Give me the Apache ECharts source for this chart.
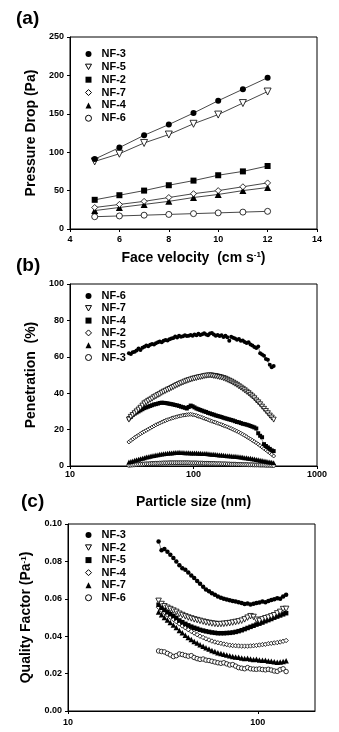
<!DOCTYPE html>
<html>
<head>
<meta charset="utf-8">
<script src="https://cdn.jsdelivr.net/npm/echarts@6/dist/echarts.min.js"></script>
<style>
html,body{margin:0;padding:0;background:#fff;}
#chart{width:339px;height:732px;}
</style>
</head>
<body>
<div id="chart"></div>
<script>
// ---------- Panel (a): pressure drop vs face velocity ----------
const velocity = [5, 6, 7, 8, 9, 10, 11, 12];
const dropNF3 = [91, 106, 122, 136, 151, 167, 182, 197];
const dropNF5 = [88, 98, 112, 123, 137, 149, 164, 179];
const dropNF2 = [38, 44, 50, 57, 63, 70, 75, 82];
const dropNF7 = [28, 32, 36, 41, 46, 50, 55, 60];
const dropNF4 = [24, 28, 32, 36, 41, 45, 50, 54];
const dropNF6 = [16, 17, 18, 19, 20, 21, 22, 23];
const velocityTicks = [4, 6, 8, 10, 12, 14];
const dropTicks = [0, 50, 100, 150, 200, 250];

// ---------- Panel (b): penetration vs particle size ----------
const sizeB = [
  30.0,31.1,32.2,33.4,34.6,35.9,37.2,38.6,40.0,41.5,
  43.0,44.6,46.2,47.9,49.6,51.5,53.3,55.3,57.3,59.4,
  61.6,63.9,66.2,68.6,71.1,73.7,76.4,79.2,82.2,85.2,
  88.3,91.5,94.9,98.3,101.9,105.7,109.6,113.6,117.7,122.0,
  126.5,131.1,135.9,140.9,146.1,151.4,157.0,162.7,168.7,174.9,
  181.3,187.9,194.8,202.0,209.3,217.0,225.0,233.2,241.8,250.6,
  259.8,269.3,279.2,289.4,300.0,311.0,322.4,334.2,346.4,359.1,
  372.3,385.9,400.0,414.7,429.9,445.7];
const penNF6 = [
  62.0,61.5,62.5,62.8,63.5,64.5,63.8,65.0,65.5,66.2,
  65.8,66.6,67.0,66.8,67.5,68.0,68.4,68.0,68.8,69.2,
  69.0,69.6,70.0,70.3,71.2,70.6,71.5,71.0,71.3,71.8,
  71.4,71.6,72.0,71.5,72.3,71.9,72.6,72.0,72.4,73.0,
  72.2,71.8,72.8,73.1,72.3,71.6,72.0,71.4,71.8,70.9,
  71.5,70.8,68.8,71.0,70.4,70.0,69.4,69.8,68.8,69.0,
  68.2,67.6,68.0,66.8,66.2,65.4,64.8,65.6,62.0,61.2,
  60.6,58.8,58.4,55.6,54.2,55.0];
const penNF7 = [
  25.5,27.0,28.0,29.0,30.0,31.0,32.0,33.2,34.4,35.0,
  35.8,36.4,37.0,37.8,38.3,39.0,39.5,40.2,40.8,41.3,
  41.9,42.3,42.9,43.4,44.0,44.5,45.0,45.5,45.9,46.4,
  46.8,47.2,47.5,47.9,48.1,48.4,48.7,48.9,49.1,49.4,
  49.6,49.7,49.8,49.7,49.5,49.4,49.1,48.9,48.6,48.3,
  47.9,47.4,46.9,46.4,45.8,45.2,44.6,43.8,43.1,42.4,
  41.6,40.8,40.0,39.1,38.2,37.2,36.0,35.0,33.9,32.6,
  31.4,30.2,29.0,27.7,26.6,25.5];
const penNF4 = [
  26.2,27.0,28.0,28.8,29.4,30.0,30.6,31.2,31.8,32.2,
  32.6,33.0,33.4,33.8,34.0,34.3,34.6,34.8,34.7,34.6,
  34.4,34.2,34.0,33.8,33.5,33.3,33.0,32.6,32.3,32.0,
  31.6,32.4,33.2,32.8,32.2,31.6,31.2,30.8,30.4,30.0,
  29.7,29.2,28.9,28.5,28.2,27.8,27.5,27.2,26.9,26.5,
  26.2,25.9,25.6,25.3,25.0,24.6,24.2,24.0,23.6,23.2,
  23.0,22.7,22.4,22.0,21.6,21.2,20.6,18.0,16.6,15.8,
  12.0,11.0,10.2,9.4,8.6,8.2];
const penNF2 = [
  13.2,14.0,14.8,15.6,16.3,17.0,17.7,18.4,19.0,19.6,
  20.2,20.8,21.4,22.0,22.6,23.1,23.6,24.1,24.6,25.0,
  25.4,25.8,26.2,26.5,26.8,27.1,27.4,27.6,27.9,28.0,
  28.2,28.3,28.4,28.2,28.0,27.7,27.3,27.0,26.6,26.2,
  25.8,25.4,25.0,24.6,24.2,23.9,23.5,23.1,22.7,22.3,
  21.9,21.5,21.0,20.6,20.1,19.6,19.1,18.6,18.0,17.4,
  16.8,16.1,15.4,14.8,14.1,13.4,12.7,12.0,11.2,10.4,
  9.6,8.8,8.0,7.2,6.4,5.5];
const penNF5 = [
  2.2,2.5,2.8,3.1,3.4,3.7,4.0,4.3,4.6,4.9,
  5.1,5.4,5.6,5.8,6.0,6.2,6.4,6.6,6.7,6.8,
  7.0,7.1,7.2,7.3,7.4,7.4,7.5,7.4,7.4,7.3,
  7.3,7.3,7.2,7.2,7.2,7.1,7.0,7.0,6.9,6.8,
  6.8,6.7,6.6,6.5,6.4,6.3,6.2,6.1,6.0,5.9,
  5.8,5.7,5.6,5.5,5.4,5.3,5.2,5.1,4.9,4.8,
  4.6,4.5,4.3,4.2,4.0,3.8,3.6,3.4,3.2,3.0,
  2.8,2.6,2.4,2.2,2.0,1.8];
const penNF3 = [
  0.4,0.5,0.6,0.7,0.8,0.9,1.0,1.0,1.1,1.2,
  1.2,1.3,1.4,1.4,1.5,1.5,1.6,1.6,1.7,1.7,
  1.7,1.8,1.8,1.8,1.8,1.8,1.8,1.8,1.8,1.8,
  1.8,1.8,1.7,1.7,1.7,1.7,1.6,1.6,1.6,1.5,
  1.5,1.5,1.4,1.4,1.4,1.3,1.3,1.3,1.2,1.2,
  1.2,1.1,1.1,1.0,1.0,1.0,0.9,0.9,0.9,0.8,
  0.8,0.8,0.7,0.7,0.7,0.6,0.6,0.6,0.5,0.5,
  0.5,0.4,0.4,0.4,0.3,0.3];
const sizeTicksB = [10, 100, 1000];
const penTicks = [0, 20, 40, 60, 80, 100];

// ---------- Panel (c): quality factor vs particle size ----------
const sizeC = [
  30.0,31.1,32.2,33.4,34.6,35.9,37.2,38.6,40.0,41.5,
  43.0,44.6,46.2,47.9,49.6,51.5,53.3,55.3,57.3,59.4,
  61.6,63.9,66.2,68.6,71.1,73.7,76.4,79.2,82.2,85.2,
  88.3,91.5,94.9,98.3,101.9,105.7,109.6,113.6,117.7,122.0,
  126.5,131.1,135.9,140.9];
const qfNF3 = [
  0.0907,0.0859,0.0866,0.0852,0.0836,0.0818,0.0800,0.0780,0.0764,0.0755,
  0.0740,0.0725,0.0711,0.0695,0.0680,0.0665,0.0650,0.0640,0.0630,0.0621,
  0.0612,0.0605,0.0600,0.0596,0.0592,0.0588,0.0585,0.0581,0.0578,0.0572,
  0.0575,0.0570,0.0573,0.0578,0.0580,0.0585,0.0582,0.0588,0.0593,0.0598,
  0.0603,0.0600,0.0612,0.0621];
const qfNF2 = [
  0.0589,0.0572,0.0560,0.0552,0.0545,0.0537,0.0530,0.0520,0.0513,0.0506,
  0.0500,0.0495,0.0490,0.0486,0.0482,0.0478,0.0474,0.0471,0.0468,0.0466,
  0.0464,0.0465,0.0466,0.0468,0.0470,0.0473,0.0476,0.0479,0.0483,0.0490,
  0.0499,0.0507,0.0503,0.0488,0.0482,0.0490,0.0496,0.0500,0.0506,0.0512,
  0.0522,0.0530,0.0545,0.0546];
const qfNF5 = [
  0.0568,0.0552,0.0540,0.0528,0.0518,0.0508,0.0498,0.0484,0.0475,0.0466,
  0.0458,0.0451,0.0445,0.0440,0.0434,0.0430,0.0426,0.0423,0.0420,0.0418,
  0.0416,0.0416,0.0416,0.0417,0.0418,0.0420,0.0423,0.0427,0.0432,0.0438,
  0.0444,0.0450,0.0456,0.0462,0.0467,0.0473,0.0480,0.0486,0.0492,0.0499,
  0.0505,0.0511,0.0517,0.0523];
const qfNF4 = [
  0.0555,0.0540,0.0527,0.0514,0.0502,0.0490,0.0478,0.0466,0.0455,0.0445,
  0.0435,0.0426,0.0417,0.0408,0.0400,0.0393,0.0386,0.0380,0.0374,0.0369,
  0.0365,0.0362,0.0358,0.0355,0.0352,0.0350,0.0349,0.0348,0.0347,0.0347,
  0.0347,0.0348,0.0349,0.0351,0.0353,0.0355,0.0357,0.0360,0.0362,0.0364,
  0.0366,0.0369,0.0373,0.0377];
const qfNF7 = [
  0.0530,0.0515,0.0500,0.0487,0.0473,0.0460,0.0446,0.0430,0.0418,0.0405,
  0.0393,0.0382,0.0372,0.0363,0.0354,0.0346,0.0338,0.0331,0.0324,0.0318,
  0.0312,0.0308,0.0303,0.0299,0.0295,0.0291,0.0289,0.0288,0.0284,0.0281,
  0.0282,0.0278,0.0276,0.0277,0.0273,0.0271,0.0272,0.0268,0.0266,0.0264,
  0.0261,0.0262,0.0265,0.0269];
const qfNF6 = [
  0.0321,0.0318,0.0316,0.0308,0.0300,0.0291,0.0296,0.0305,0.0302,0.0297,
  0.0293,0.0296,0.0286,0.0280,0.0276,0.0278,0.0272,0.0270,0.0266,0.0262,
  0.0258,0.0255,0.0258,0.0252,0.0246,0.0248,0.0240,0.0232,0.0229,0.0226,
  0.0232,0.0226,0.0224,0.0223,0.0225,0.0222,0.0220,0.0223,0.0219,0.0214,
  0.0212,0.0221,0.0226,0.0211];
const sizeTicksC = [10, 100];
const qfTicks = [0, 0.02, 0.04, 0.06, 0.08, 0.10];

// ---------- build ----------
const FONT = "'Liberation Sans', Arial, Helvetica, sans-serif";
const DOWN_TRI = 'path://M0,0L10,0L5,9Z';

function pts(xs, ys) { return xs.map((x, i) => [x, ys[i]]); }

// marker kinds: filled circle, open down-tri, filled square, open diamond, filled triangle, open circle
const KINDS = [
  {symbol: 'circle',   icon: 'circle',   open: false, rot: 0},
  {symbol: 'triangle', icon: DOWN_TRI,   open: true,  rot: 180},
  {symbol: 'rect',     icon: 'rect',     open: false, rot: 0},
  {symbol: 'diamond',  icon: 'diamond',  open: true,  rot: 0},
  {symbol: 'triangle', icon: 'triangle', open: false, rot: 0},
  {symbol: 'circle',   icon: 'circle',   open: true,  rot: 0}
];
function style(open) {
  return open ? {color: '#fff', borderColor: '#000', borderWidth: 0.8}
              : {color: '#000', borderColor: '#000', borderWidth: 0};
}

const panels = [
  {key: 'a', xs: velocity, size: 6, lw: 0.9, sets: [
    ['NF-3', dropNF3], ['NF-5', dropNF5], ['NF-2', dropNF2],
    ['NF-7', dropNF7], ['NF-4', dropNF4], ['NF-6', dropNF6]]},
  {key: 'b', xs: sizeB, size: 4, lw: 0.6, sets: [
    ['NF-6', penNF6], ['NF-7', penNF7], ['NF-4', penNF4],
    ['NF-2', penNF2], ['NF-5', penNF5], ['NF-3', penNF3]]},
  {key: 'c', xs: sizeC, size: 4.5, lw: 0.6, sets: [
    ['NF-3', qfNF3], ['NF-2', qfNF2], ['NF-5', qfNF5],
    ['NF-4', qfNF4], ['NF-7', qfNF7], ['NF-6', qfNF6]]}
];

const series = [];
const legends = [];
const legendPos = [
  {left: 85, top: 48, itemGap: 0.85},
  {left: 85, top: 290, itemGap: 0.3},
  {left: 85, top: 529, itemGap: 0.55}
];
panels.forEach((p, pi) => {
  const ldata = [];
  p.sets.forEach((s, si) => {
    const k = KINDS[si];
    const nm = p.key + '|' + s[0];
    series.push({
      type: 'line', name: nm, xAxisIndex: pi, yAxisIndex: pi,
      data: pts(p.xs, s[1]),
      symbol: k.symbol, symbolSize: k.symbol === 'triangle' ? p.size + 1 : p.size,
      symbolRotate: k.rot, showSymbol: true, showAllSymbol: true,
      lineStyle: {color: '#333', width: p.lw},
      itemStyle: style(k.open),
      emphasis: {disabled: true}, animation: false, z: 10 - si
    });
    ldata.push({name: nm, icon: k.icon, itemStyle: Object.assign({}, style(k.open), k.open ? {borderWidth: 1} : {})});
  });
  legends.push(Object.assign({
    orient: 'vertical', itemWidth: 6, itemHeight: 6, padding: 0,
    selectedMode: false,
    textStyle: {fontSize: 11, fontWeight: 'bold', color: '#000', fontFamily: FONT, lineHeight: 12, padding: [0, 0, 0, 5]},
    formatter: n => n.split('|')[1],
    data: ldata
  }, legendPos[pi]));
});

const axisCommon = {
  axisLine: {show: true, lineStyle: {color: '#000', width: 1}},
  axisTick: {show: true, inside: false, length: 3, lineStyle: {color: '#000', width: 1}},
  splitLine: {show: false},
  minorTick: {show: false},
  nameTextStyle: {fontSize: 14, fontWeight: 'bold', color: '#000', fontFamily: FONT,
    rich: {sup: {fontSize: 8, fontWeight: 'bold', color: '#000', fontFamily: FONT, verticalAlign: 'top'}}}
};
function lab(extra) {
  return Object.assign({fontSize: 9, fontWeight: 'bold', color: '#000', fontFamily: FONT, margin: 5}, extra || {});
}

const option = {
  backgroundColor: '#fff',
  animation: false,
  title: [
    {text: '(a)', left: 16, top: 9, padding: 0, textStyle: {fontSize: 19, fontWeight: 'bold', color: '#000', fontFamily: FONT}},
    {text: '(b)', left: 16, top: 256, padding: 0, textStyle: {fontSize: 19, fontWeight: 'bold', color: '#000', fontFamily: FONT}},
    {text: '(c)', left: 21, top: 492, padding: 0, textStyle: {fontSize: 19, fontWeight: 'bold', color: '#000', fontFamily: FONT}}
  ],
  legend: legends,
  grid: [
    {left: 70, top: 37, width: 247, height: 192, show: true, borderColor: '#000', borderWidth: 1, containLabel: false},
    {left: 70, top: 284, width: 247, height: 182, show: true, borderColor: '#000', borderWidth: 1, containLabel: false},
    {left: 68, top: 524, width: 247, height: 187, show: true, borderColor: '#000', borderWidth: 1, containLabel: false}
  ],
  xAxis: [
    Object.assign({}, axisCommon, {gridIndex: 0, type: 'value',
      min: velocityTicks[0], max: velocityTicks[velocityTicks.length - 1], interval: 2,
      name: 'Face velocity  (cm s{sup|-1})', nameLocation: 'middle', nameGap: 22,
      axisLabel: lab({margin: 6})}),
    Object.assign({}, axisCommon, {gridIndex: 1, type: 'log', logBase: 10,
      min: sizeTicksB[0], max: sizeTicksB[sizeTicksB.length - 1],
      name: 'Particle size (nm)', nameLocation: 'middle', nameGap: 29,
      axisLabel: lab({margin: 4, formatter: v => String(Math.round(v))})}),
    Object.assign({}, axisCommon, {gridIndex: 2, type: 'log', logBase: 10,
      min: sizeTicksC[0], max: 200,
      axisTick: Object.assign({}, axisCommon.axisTick, {customValues: sizeTicksC}),
      axisLabel: lab({margin: 7, customValues: sizeTicksC, formatter: v => String(Math.round(v))})})
  ],
  yAxis: [
    Object.assign({}, axisCommon, {gridIndex: 0, type: 'value',
      min: dropTicks[0], max: dropTicks[dropTicks.length - 1], interval: 50,
      name: 'Pressure Drop (Pa)', nameLocation: 'middle', nameGap: 24,
      axisLabel: lab({margin: 6})}),
    Object.assign({}, axisCommon, {gridIndex: 1, type: 'value',
      min: penTicks[0], max: penTicks[penTicks.length - 1], interval: 20,
      name: 'Penetration  (%)', nameLocation: 'middle', nameGap: 24,
      axisLabel: lab({margin: 6})}),
    Object.assign({}, axisCommon, {gridIndex: 2, type: 'value',
      min: qfTicks[0], max: 0.1, interval: 0.02,
      name: 'Quality Factor (Pa{sup|-1})', nameLocation: 'middle', nameGap: 25,
      axisLabel: lab({margin: 6, formatter: v => v.toFixed(2)})})
  ],
  series: series
};

const chart = echarts.init(document.getElementById('chart'), null, {renderer: 'canvas'});
chart.setOption(option);
</script>
</body>
</html>
